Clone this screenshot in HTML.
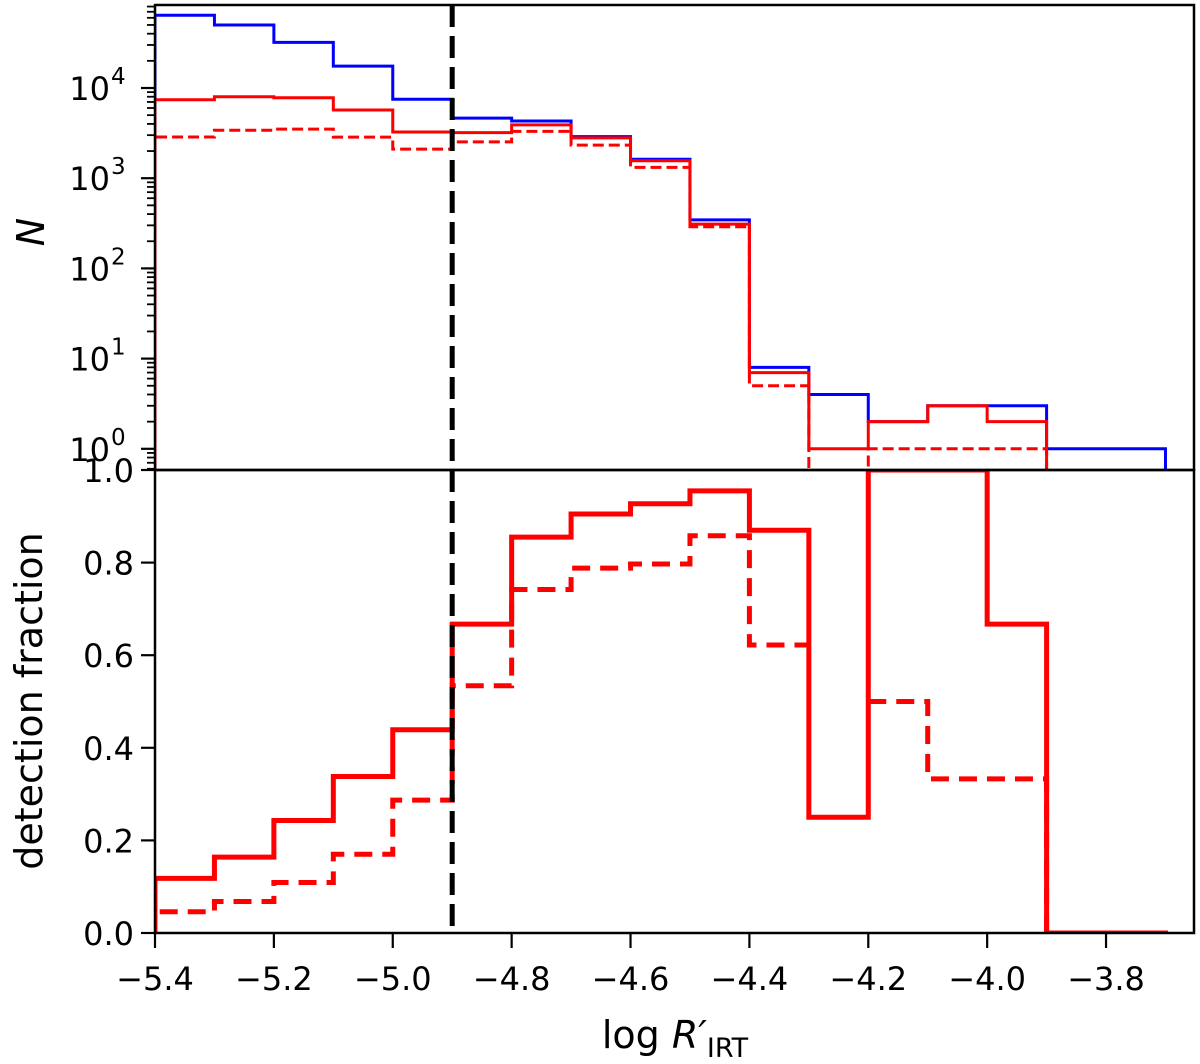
<!DOCTYPE html>
<html><head><meta charset="utf-8"><style>
html,body{margin:0;padding:0;background:#fff;}
svg{display:block;font-family:"DejaVu Sans","Liberation Sans",sans-serif;}
</style></head><body>
<svg id="chart" width="1200" height="1064" viewBox="0 0 1200 1064">
<defs>
<clipPath id="clipTop"><rect x="155" y="5" width="1040" height="465"/></clipPath>
<clipPath id="clipBot"><rect x="155" y="470" width="1040" height="463"/></clipPath>
</defs>
<g id="topMarks" clip-path="url(#clipTop)"></g>
<g id="botMarks" clip-path="url(#clipBot)"></g>
<g id="axes"></g>
<text transform="translate(44,232) rotate(-90)" text-anchor="middle" font-size="38" font-style="italic">N</text>
<text transform="translate(42,701) rotate(-90)" text-anchor="middle" font-size="38">detection fraction</text>
<text x="675" y="1048" text-anchor="middle" font-size="38">log <tspan font-style="italic">R′</tspan><tspan font-size="27" dy="9">IRT</tspan></text>
</svg>
<script>
const binEdges = [-5.4,-5.3,-5.2,-5.1,-5.0,-4.9,-4.8,-4.7,-4.6,-4.5,-4.4,-4.3,-4.2,-4.1,-4.0,-3.9,-3.8,-3.7];
const countAll = [64000,50000,32000,17500,7500,4640,4300,2890,1620,345,8,4,2,3,3,1,1];
const countDet = [7400,8000,7800,5700,3250,3200,3900,2800,1560,310,7,1,2,3,2,0,0];
const countDetStrict = [2860,3400,3500,2850,2100,2530,3300,2330,1320,290,5,0,1,1,1,0,0];
const fracDet = [0.118,0.164,0.243,0.338,0.439,0.667,0.855,0.905,0.927,0.955,0.87,0.25,1.0,1.0,0.667,0,0];
const fracDetStrict = [0.046,0.068,0.109,0.17,0.287,0.534,0.742,0.788,0.797,0.858,0.622,null,0.5,0.333,0.333,0,0];
const xTicks = [-5.4,-5.2,-5.0,-4.8,-4.6,-4.4,-4.2,-4.0,-3.8];
const xTickLabels = ["−5.4","−5.2","−5.0","−4.8","−4.6","−4.4","−4.2","−4.0","−3.8"];
const logTicks = [0,1,2,3,4];
const fracTicks = [0,0.2,0.4,0.6,0.8,1.0];
const fracTickLabels = ["0.0","0.2","0.4","0.6","0.8","1.0"];
const thresholdX = -4.9;

const NS="http://www.w3.org/2000/svg";
const X=v=>155+(v+5.4)*594.4;
const YT=v=>v<=0?520:88-(Math.log10(v)-4)*90.2;
const YB=f=>933-f*463;
function mk(tag,attrs,parent){const e=document.createElementNS(NS,tag);for(const k in attrs)e.setAttribute(k,attrs[k]);parent.appendChild(e);return e;}
function stepPath(vals,yf,base){
  let d="", prev=null;
  for(let i=0;i<vals.length;i++){
    const v=vals[i];
    if(v===null){prev=null;continue;}
    const x0=X(binEdges[i]),x1=X(binEdges[i+1]),y=yf(v);
    if(prev===null){d+=" M"+x0+","+(i===0?base:y)+" L"+x0+","+y;}
    else{d+=" L"+x0+","+y;}
    d+=" L"+x1+","+y;
    prev=y;
  }
  if(prev!==null)d+=" L"+X(binEdges[vals.length])+","+base;
  return d.trim();
}
const topG=document.getElementById('topMarks'),botG=document.getElementById('botMarks'),axG=document.getElementById('axes');
let p;
p=mk('path',{d:stepPath(countAll,YT,520),fill:"none",stroke:"#0000ff","stroke-width":3},topG);


p=mk('path',{d:stepPath(countDetStrict,YT,520),fill:"none",stroke:"#ff0000","stroke-width":3,"stroke-dasharray":"11,5"},topG);


p=mk('path',{d:stepPath(countDet,YT,520),fill:"none",stroke:"#ff0000","stroke-width":3},topG);


p=mk('path',{d:stepPath(fracDetStrict,YB,935),fill:"none",stroke:"#ff0000","stroke-width":5,"stroke-dasharray":"18,10"},botG);


p=mk('path',{d:stepPath(fracDet,YB,935),fill:"none",stroke:"#ff0000","stroke-width":5},botG);


p=mk('line',{x1:X(thresholdX),x2:X(thresholdX),y1:5,y2:933,stroke:"#000","stroke-width":5,"stroke-dasharray":"22,9"},axG);


p=mk('rect',{x:155,y:5,width:1039,height:465,fill:"none",stroke:"#000","stroke-width":2.5},axG);


p=mk('rect',{x:155,y:470,width:1039,height:463,fill:"none",stroke:"#000","stroke-width":2.5},axG);


for(let d=-1;d<=4;d++){for(let m=2;m<=9;m++){const y=YT(m*Math.pow(10,d));if(y<5||y>470)continue;
  p=mk('line',{x1:147,x2:155,y1:y,y2:y,stroke:"#000","stroke-width":1.8},axG);
  
  }}
logTicks.forEach(e=>{const y=YT(Math.pow(10,e));
  const l=mk('line',{x1:141,x2:155,y1:y,y2:y,stroke:"#000","stroke-width":2.2},axG);
  
  
  const t=mk('text',{x:110,y:y+12,"text-anchor":"end","font-size":32},axG);
  t.textContent="10";
  
  
  const s=mk('text',{x:111,y:y-4,"font-size":23},axG);
  s.textContent=String(e);
  
  
});
fracTicks.forEach((f,i)=>{const y=YB(f);
  const l=mk('line',{x1:141,x2:155,y1:y,y2:y,stroke:"#000","stroke-width":2.2},axG);
  
  
  const t=mk('text',{x:134,y:y+12,"text-anchor":"end","font-size":32},axG);
  t.textContent=fracTickLabels[i];
  
  
});
xTicks.forEach((v,i)=>{const x=X(v);
  const l=mk('line',{x1:x,x2:x,y1:933,y2:948,stroke:"#000","stroke-width":2.2},axG);
  
  
  const t=mk('text',{x:x,y:990,"text-anchor":"middle","font-size":32},axG);
  t.textContent=xTickLabels[i];
  
  
});
</script>
</body></html>
